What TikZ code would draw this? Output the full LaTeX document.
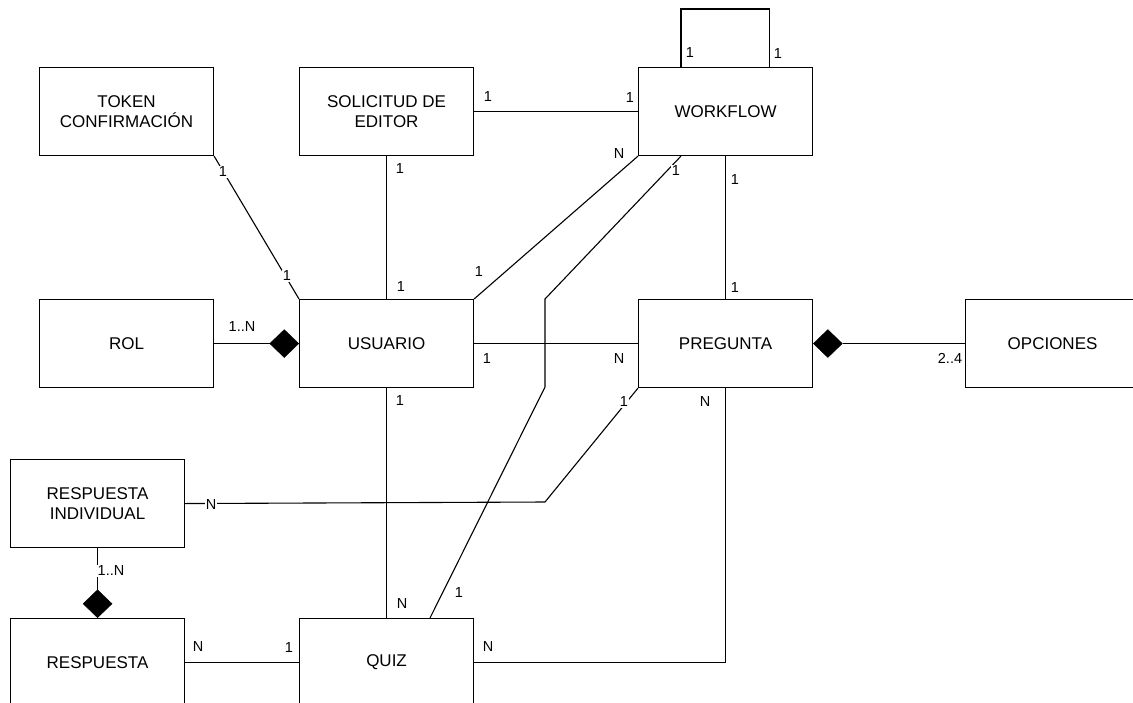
\documentclass[tikz,border=0pt]{standalone}
\usepackage{fontspec}
\setmainfont{Liberation Sans}
\usetikzlibrary{shapes.geometric}
\begin{document}
\begin{tikzpicture}[x=1pt,y=-1pt,
  entity/.style={draw, line width=1.1pt, minimum width=174pt, minimum height=88pt,
    inner sep=0pt, align=center, anchor=north west, font=\fontsize{17}{20}\selectfont},
  conn/.style={line width=1.1pt},
  comp/.style={diamond, fill=black, draw=black, line width=0.5pt, inner sep=0pt,
    minimum width=29pt, minimum height=28pt},
  lbl/.style={font=\fontsize{14.5}{16}\selectfont, inner sep=1pt},
  onl/.style={lbl, fill=white}]
\useasboundingbox (0,0) rectangle (1133,702);
\clip (0,0) rectangle (1133,702);

% entities
\node[entity] (token) at (39,67) {TOKEN\\CONFIRMACIÓN};
\node[entity] (solicitud) at (299,67) {SOLICITUD DE\\EDITOR};
\node[entity] (workflow) at (638,67) {WORKFLOW};
\node[entity] (rol) at (39,299) {ROL};
\node[entity] (usuario) at (299,299) {USUARIO};
\node[entity] (pregunta) at (638,299) {PREGUNTA};
\node[entity] (opciones) at (965,299) {OPCIONES};
\node[entity] (ri) at (10,459) {RESPUESTA\\INDIVIDUAL};
\node[entity] (respuesta) at (10,618) {RESPUESTA};
\node[entity] (quiz) at (299,618) {QUIZ};

% composition diamonds
\node[comp, anchor=east] (d1) at (usuario.west) {};
\node[comp, anchor=south] (d2) at (respuesta.north) {};
\node[comp, anchor=west] (d3) at (pregunta.east) {};

% bend points
\coordinate (qw1) at (545,387);
\coordinate (qw2) at (545,299);
\coordinate (rp1) at (545,502);

% connectors
\draw[conn] (token.south east) -- (usuario.north west);
\draw[conn] (solicitud.south) -- (usuario.north);
\draw[conn] (solicitud.east) -- (workflow.west);
\draw[conn] ([xshift=43pt]workflow.north west) -- ++(0,-58) -| ([xshift=-44pt]workflow.north east);
\draw[conn] (usuario.north east) -- (workflow.south west);
\draw[conn] ([xshift=131pt]quiz.north west) -- (qw1) -- (qw2) -- ([xshift=43pt]workflow.south west);
\draw[conn] (workflow.south) -- (pregunta.north);
\draw[conn] (rol.east) -- (d1.west);
\draw[conn] (usuario.east) -- (pregunta.west);
\draw[conn] (d3.east) -- (opciones.west);
\draw[conn] (usuario.south) -- (quiz.north);
\draw[conn] (ri.east) -- (rp1) -- (pregunta.south west);
\draw[conn] (ri.south) -- (d2.north);
\draw[conn] (respuesta.east) -- (quiz.west);
\draw[conn] (quiz.east) -| (pregunta.south);

% labels
\node[onl] at (223,172) {1};
\node[onl] at (287,276) {1};
\node[lbl] at (400,169) {1};
\node[lbl] at (401,287) {1};
\node[lbl] at (488,97) {1};
\node[lbl] at (630,98) {1};
\node[lbl] at (690,53) {1};
\node[lbl] at (778,54) {1};
\node[lbl] at (479,272) {1};
\node[lbl] at (619,154) {N};
\node[onl] at (676,171) {1};
\node[lbl] at (459,593) {1};
\node[lbl] at (735,180) {1};
\node[lbl] at (735,288) {1};
\node[lbl] at (242,327) {1..N};
\node[lbl] at (487,359) {1};
\node[lbl] at (619,359) {N};
\node[lbl] at (950,358) {2..4};
\node[lbl] at (400,401) {1};
\node[lbl] at (402,604) {N};
\node[onl] at (211,505) {N};
\node[onl] at (624,402) {1};
\node[lbl] at (705,402) {N};
\node[onl] at (111,571) {1..N};
\node[lbl] at (198,647) {N};
\node[lbl] at (289,648) {1};
\node[lbl] at (488,647) {N};
\end{tikzpicture}
\end{document}
